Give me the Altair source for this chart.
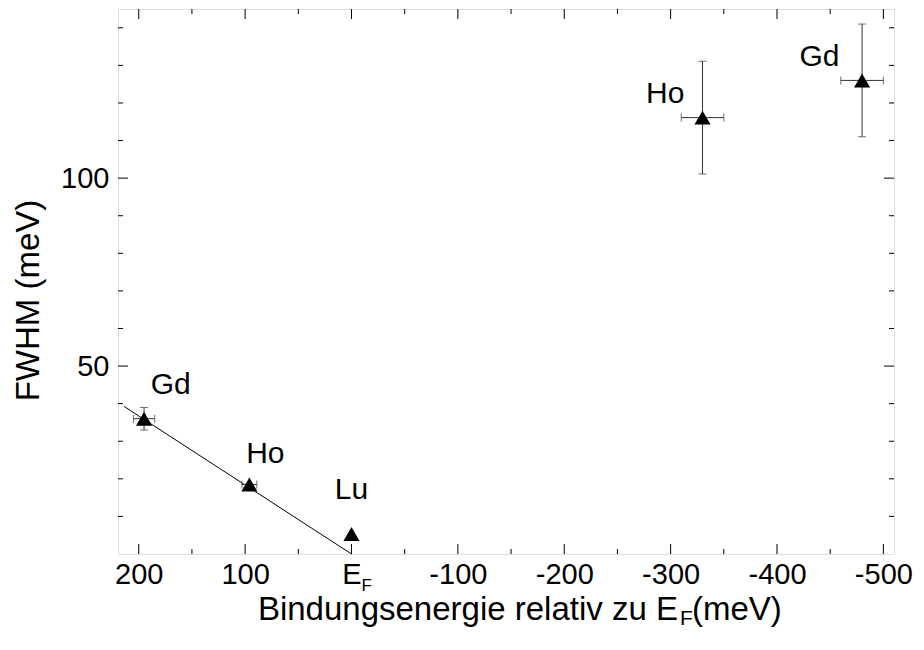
import altair as alt
import pandas as pd

# ---- data ----
elements = ["Gd", "Ho", "Lu", "Ho", "Gd"]
binding_energy = [195, 96, 0, -330, -480]
fwhm = [36.0, 18.5, 5.3, 116.1, 126.0]
x_error = [10, 7, 0, 20, 20]
y_error = [3, 0, 0, 15, 15]
label_x = [170, 81, 0, -295, -440]
label_y = [45, 26.5, 17, 122.5, 132.3]

fit_x = [214, 0]
fit_y = [39.3, 0]

x_major = [200, 100, 0, -100, -200, -300, -400, -500]
x_minor = [150, 50, -50, -150, -250, -350, -450]
y_major = [50, 100]
y_minor = [10, 20, 30, 40, 60, 70, 80, 90, 110, 120, 130, 140]

X_DOMAIN = [-510, 219.5]
Y_DOMAIN = [0, 145]
W, H = 776, 545
FONT = "Liberation Sans"

pts = pd.DataFrame({"el": elements, "x": binding_energy, "y": fwhm,
                    "xe": x_error, "ye": y_error, "lx": label_x, "ly": label_y})
pts["xmin"] = pts["x"] - pts["xe"]
pts["xmax"] = pts["x"] + pts["xe"]
pts["ymin"] = pts["y"] - pts["ye"]
pts["ymax"] = pts["y"] + pts["ye"]

fit = pd.DataFrame({"x": fit_x, "y": fit_y})

xs = alt.Scale(domain=X_DOMAIN, reverse=True, nice=False, zero=False)
ys = alt.Scale(domain=Y_DOMAIN, nice=False, zero=False)

x_axis = alt.Axis(values=x_major, title=None, grid=False, ticks=False, domain=False,
                  labelFont=FONT, labelFontSize=29, labelColor="black", labelPadding=6,
                  labelExpr="datum.value == 0 ? 'E' : '' + datum.value", labelFlush=False)
y_axis = alt.Axis(values=y_major, title="FWHM (meV)", grid=False, ticks=False, domain=False,
                  labelFont=FONT, labelFontSize=29, labelColor="black", labelPadding=9,
                  titleFont=FONT, titleFontSize=33, titleFontWeight="normal", titleColor="black",
                  titleAngle=-90, titleX=-90, titleY=291, titleAlign="center",
                  titleBaseline="middle", labelFlush=False)

base = alt.Chart(pts)

fit_line = alt.Chart(fit).mark_line(color="black", strokeWidth=1).encode(
    x=alt.X("x:Q", scale=xs, axis=x_axis),
    y=alt.Y("y:Q", scale=ys, axis=y_axis),
)

err_col = "#333333"
hbar = base.transform_filter("datum.xe > 0").mark_rule(color=err_col, strokeWidth=1).encode(
    x=alt.X("xmin:Q", scale=xs), x2="xmax:Q", y=alt.Y("y:Q", scale=ys))
hcap_l = base.transform_filter("datum.xe > 0").mark_tick(color=err_col, orient="vertical", size=8, thickness=1).encode(
    x=alt.X("xmin:Q", scale=xs), y=alt.Y("y:Q", scale=ys))
hcap_r = base.transform_filter("datum.xe > 0").mark_tick(color=err_col, orient="vertical", size=8, thickness=1).encode(
    x=alt.X("xmax:Q", scale=xs), y=alt.Y("y:Q", scale=ys))
vbar = base.transform_filter("datum.ye > 0").mark_rule(color=err_col, strokeWidth=1).encode(
    x=alt.X("x:Q", scale=xs), y=alt.Y("ymin:Q", scale=ys), y2="ymax:Q")
vcap_l = base.transform_filter("datum.ye > 0").mark_tick(color=err_col, orient="horizontal", size=8, thickness=1).encode(
    x=alt.X("x:Q", scale=xs), y=alt.Y("ymin:Q", scale=ys))
vcap_h = base.transform_filter("datum.ye > 0").mark_tick(color=err_col, orient="horizontal", size=8, thickness=1).encode(
    x=alt.X("x:Q", scale=xs), y=alt.Y("ymax:Q", scale=ys))

points = base.mark_point(shape="triangle-up", filled=True, color="black", opacity=1, size=260).encode(
    x=alt.X("x:Q", scale=xs), y=alt.Y("y:Q", scale=ys))

labels = base.mark_text(font=FONT, fontSize=30, color="black", align="center", baseline="middle").encode(
    x=alt.X("lx:Q", scale=xs), y=alt.Y("ly:Q", scale=ys), text="el:N")

# inward ticks on all four sides
xmaj = pd.DataFrame({"v": x_major})
xmin_ = pd.DataFrame({"v": x_minor})
ymaj = pd.DataFrame({"v": y_major})
ymin_ = pd.DataFrame({"v": y_minor})

def xticks(df, length):
    b = alt.Chart(df).mark_rule(color="black", strokeWidth=1).encode(
        x=alt.X("v:Q", scale=xs), y=alt.value(H), y2=alt.value(H - length))
    t = alt.Chart(df).mark_rule(color="black", strokeWidth=1).encode(
        x=alt.X("v:Q", scale=xs), y=alt.value(0), y2=alt.value(length))
    return b + t

def yticks(df, length):
    l = alt.Chart(df).mark_rule(color="black", strokeWidth=1).encode(
        y=alt.Y("v:Q", scale=ys), x=alt.value(0), x2=alt.value(length))
    r = alt.Chart(df).mark_rule(color="black", strokeWidth=1).encode(
        y=alt.Y("v:Q", scale=ys), x=alt.value(W), x2=alt.value(W - length))
    return l + r

ticks = xticks(xmaj, 10) + xticks(xmin_, 5) + yticks(ymaj, 10) + yticks(ymin_, 5)

# subscript F of the E_F tick label
ef_sub = alt.Chart(pd.DataFrame({"v": [0], "t": ["F"]})).mark_text(
    font=FONT, fontSize=17, color="black", align="left", baseline="middle", dx=10).encode(
    x=alt.X("v:Q", scale=xs), y=alt.value(H + 32), text="t:N")

# x-axis title with subscript
title_df = pd.DataFrame({"a": ["Bindungsenergie relativ zu E"], "b": ["F"], "c": ["(meV)"]})
t1 = alt.Chart(title_df).mark_text(font=FONT, fontSize=33, color="black", align="right",
                                   baseline="middle").encode(
    x=alt.value(560), y=alt.value(601), text="a:N")
t2 = alt.Chart(title_df).mark_text(font=FONT, fontSize=21, color="black", align="left",
                                   baseline="middle").encode(
    x=alt.value(562), y=alt.value(610), text="b:N")
t3 = alt.Chart(title_df).mark_text(font=FONT, fontSize=33, color="black", align="left",
                                   baseline="middle").encode(
    x=alt.value(574), y=alt.value(601), text="c:N")

chart = alt.layer(
    fit_line, hbar, hcap_l, hcap_r, vbar, vcap_l, vcap_h, points, labels,
    ticks, ef_sub, t1, t2, t3
).properties(
    width=W, height=H,
    autosize=alt.AutoSizeParams(type="none"),
    padding={"left": 118, "top": 9, "right": 30, "bottom": 96},
).configure_view(
    stroke="#777777", strokeWidth=1.5
).configure(background="white")

chart.save("out.html", embed_options={"renderer": "svg", "actions": False})
